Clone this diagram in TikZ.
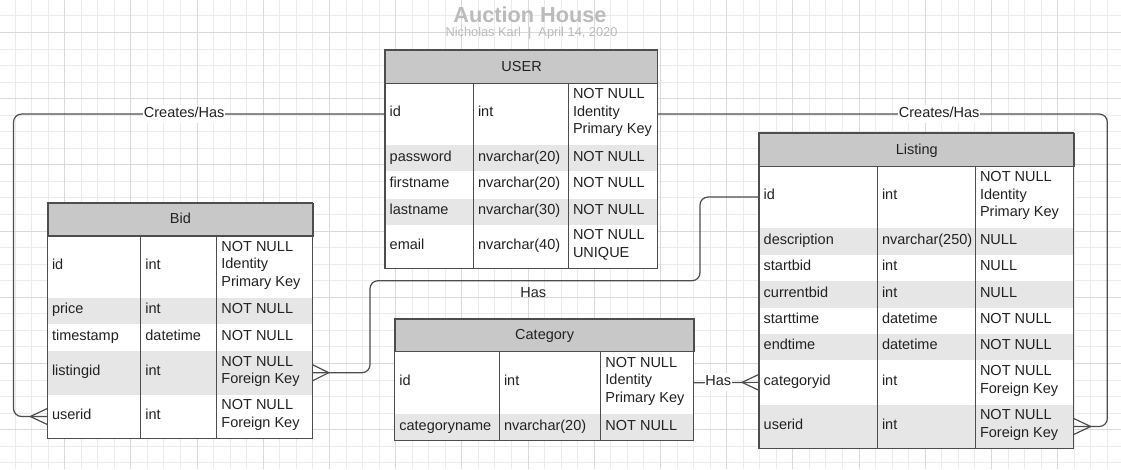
\documentclass[tikz,border=0pt]{standalone}
\usepackage{fontspec}
\setmainfont{Liberation Sans}

\definecolor{headgray}{HTML}{C8C8C8}
\definecolor{rowgray}{HTML}{E6E6E6}
\definecolor{edgegray}{HTML}{4D4D4D}
\definecolor{gridminor}{HTML}{EBEBEB}
\definecolor{gridmajor}{HTML}{D9D9D9}
\definecolor{titlegray}{HTML}{BBBBBB}
\definecolor{inkblack}{HTML}{222222}

\newcommand{\cellstrut}{\rule[-5.5pt]{0pt}{17pt}}
\newcommand{\headstrut}{\rule[-4.8pt]{0pt}{18pt}}

\tikzset{
  cellfont/.style={font=\fontsize{14.5}{17.5}\selectfont, text=inkblack},
  tablehead/.style={cellfont, draw=edgegray, line width=1.2pt, fill=headgray, anchor=north west, inner sep=0pt, execute at begin node=\headstrut},
  tablerow/.style={fill=#1, anchor=north west, inner sep=0pt},
  celltext/.style={cellfont, anchor=west, inner sep=0pt, align=left, execute at begin node=\cellstrut, execute at end node=\cellstrut},
  tableline/.style={draw=edgegray, line width=1.2pt},
  link/.style={draw=edgegray, line width=1.2pt, rounded corners=8pt},
  crow/.style={draw=edgegray, line width=1.2pt},
  linklabel/.style={cellfont, inner sep=0.5pt, execute at begin node=\cellstrut},
}

\begin{document}
\begin{tikzpicture}[x=1pt, y=-1pt]
    \useasboundingbox (0,0) rectangle (1121,469);
    \fill[white] (0,0) rectangle (1121,469);
    \foreach \k in {0,...,66}
        \draw[gridminor, line width=0.7pt] ({14.85+16.55*\k},0) -- ({14.85+16.55*\k},469);
    \foreach \k in {0,...,27}
        \draw[gridminor, line width=0.7pt] (0,{15.75+16.55*\k}) -- (1121,{15.75+16.55*\k});
    \foreach \k in {3,7,...,63}
        \draw[gridmajor, line width=0.7pt] ({14.85+16.55*\k},0) -- ({14.85+16.55*\k},469);
    \foreach \k in {1,5,...,25}
        \draw[gridmajor, line width=0.7pt] (0,{15.75+16.55*\k}) -- (1121,{15.75+16.55*\k});

    \node[font=\bfseries\fontsize{21.7}{24}\selectfont, text=titlegray, anchor=base, inner sep=0pt] (title) at (530,22.7) {Auction House};
    \node[font=\fontsize{12.8}{14}\selectfont, text=titlegray, anchor=base, inner sep=0pt] (subtitle) at (531.5,36) {Nicholas Karl\ \ |\ \ April 14, 2020};

    % USER
    \foreach \rname/\rtop/\rh/\rfill/\colA/\colB/\colC in {
        id/82.7/62.3/white/id/int/{NOT NULL\\Identity\\Primary Key},
        password/145/26/rowgray/password/{nvarchar(20)}/{NOT NULL},
        firstname/171/27.3/white/firstname/{nvarchar(20)}/{NOT NULL},
        lastname/198.3/26/rowgray/lastname/{nvarchar(30)}/{NOT NULL},
        email/224.3/44/white/email/{nvarchar(40)}/{NOT NULL\\UNIQUE}}{
        \node[tablerow=\rfill, minimum width=272pt, minimum height=\rh*1pt] (user-\rname) at (385,\rtop) {};
        \node[celltext] (user-\rname-1) at (389.5,\rtop+\rh/2) {\colA};
        \node[celltext] (user-\rname-2) at (477.8,\rtop+\rh/2) {\colB};
        \node[celltext] (user-\rname-3) at (572.8,\rtop+\rh/2) {\colC};
    }
    \node[tablehead, minimum width=272pt, minimum height=32.7pt] (user) at (385,50) {USER};
    \draw[tableline] (user.north west) rectangle (user-email.south east);
    \draw[tableline] (473.3,82.7) -- (473.3,268.3);
    \draw[tableline] (568.3,82.7) -- (568.3,268.3);

    % Bid
    \foreach \rname/\rtop/\rh/\rfill/\colA/\colB/\colC in {
        id/235.3/62/white/id/int/{NOT NULL\\Identity\\Primary Key},
        price/297.3/26.7/rowgray/price/int/{NOT NULL},
        timestamp/324/26.7/white/timestamp/datetime/{NOT NULL},
        listingid/350.7/43.6/rowgray/listingid/int/{NOT NULL\\Foreign Key},
        userid/394.3/44/white/userid/int/{NOT NULL\\Foreign Key}}{
        \node[tablerow=\rfill, minimum width=265pt, minimum height=\rh*1pt] (bid-\rname) at (47.3,\rtop) {};
        \node[celltext] (bid-\rname-1) at (51.8,\rtop+\rh/2) {\colA};
        \node[celltext] (bid-\rname-2) at (145.2,\rtop+\rh/2) {\colB};
        \node[celltext] (bid-\rname-3) at (221.2,\rtop+\rh/2) {\colC};
    }
    \node[tablehead, minimum width=265pt, minimum height=32.6pt] (bid) at (47.3,202.7) {Bid};
    \draw[tableline] (bid.north west) rectangle (bid-userid.south east);
    \draw[tableline] (140.7,235.3) -- (140.7,438.3);
    \draw[tableline] (216.7,235.3) -- (216.7,438.3);

    % Listing
    \foreach \rname/\rtop/\rh/\rfill/\colA/\colB/\colC in {
        id/166/61.7/white/id/int/{NOT NULL\\Identity\\Primary Key},
        description/227.7/26.6/rowgray/description/{nvarchar(250)}/NULL,
        startbid/254.3/26.4/white/startbid/int/NULL,
        currentbid/280.7/26.6/rowgray/currentbid/int/NULL,
        starttime/307.3/26/white/starttime/datetime/{NOT NULL},
        endtime/333.3/26.7/rowgray/endtime/datetime/{NOT NULL},
        categoryid/360/44.3/white/categoryid/int/{NOT NULL\\Foreign Key},
        userid/404.3/44/rowgray/userid/int/{NOT NULL\\Foreign Key}}{
        \node[tablerow=\rfill, minimum width=314.3pt, minimum height=\rh*1pt] (listing-\rname) at (759,\rtop) {};
        \node[celltext] (listing-\rname-1) at (763.5,\rtop+\rh/2) {\colA};
        \node[celltext] (listing-\rname-2) at (881.8,\rtop+\rh/2) {\colB};
        \node[celltext] (listing-\rname-3) at (979.8,\rtop+\rh/2) {\colC};
    }
    \node[tablehead, minimum width=314.3pt, minimum height=33.3pt] (listing) at (759,132.7) {Listing};
    \draw[tableline] (listing.north west) rectangle (listing-userid.south east);
    \draw[tableline] (877.3,166) -- (877.3,448.3);
    \draw[tableline] (975.3,166) -- (975.3,448.3);

    % Category
    \foreach \rname/\rtop/\rh/\rfill/\colA/\colB/\colC in {
        id/351/63/white/id/int/{NOT NULL\\Identity\\Primary Key},
        categoryname/414/26/rowgray/categoryname/{nvarchar(20)}/{NOT NULL}}{
        \node[tablerow=\rfill, minimum width=298.6pt, minimum height=\rh*1pt] (category-\rname) at (394.7,\rtop) {};
        \node[celltext] (category-\rname-1) at (399.2,\rtop+\rh/2) {\colA};
        \node[celltext] (category-\rname-2) at (503.8,\rtop+\rh/2) {\colB};
        \node[celltext] (category-\rname-3) at (605.2,\rtop+\rh/2) {\colC};
    }
    \node[tablehead, minimum width=298.6pt, minimum height=32.7pt] (category) at (394.7,318.3) {Category};
    \draw[tableline] (category.north west) rectangle (category-categoryname.south east);
    \draw[tableline] (499.3,351) -- (499.3,440);
    \draw[tableline] (600.7,351) -- (600.7,440);

    % relationships
    \coordinate (leftrail) at (13.5,0);
    \coordinate (rightrail) at (1107.3,0);
    \coordinate (hasbend1) at (700,280.7);
    \coordinate (hasbend2) at (370,280.7);

    \draw[link] (user-id.west) -| (leftrail |- bid-userid.west) -- (bid-userid.west);
    \draw[crow] ([yshift=8pt]bid-userid.west) -- ([xshift=-17pt]bid-userid.west) -- ([yshift=-8pt]bid-userid.west);

    \draw[link] (user-id.east) -| (rightrail |- listing-userid.east) -- (listing-userid.east);
    \draw[crow] ([yshift=8pt]listing-userid.east) -- ([xshift=17pt]listing-userid.east) -- ([yshift=-8pt]listing-userid.east);

    \draw[link] (listing-id.west) -| (hasbend1) -- (hasbend2) |- (bid-listingid.east);
    \draw[crow] ([yshift=8pt]bid-listingid.east) -- ([xshift=16pt]bid-listingid.east) -- ([yshift=-8pt]bid-listingid.east);

    \draw[link] (category-id.east) -- (listing-categoryid.west);
    \draw[crow] ([yshift=8pt]listing-categoryid.west) -- ([xshift=-17pt]listing-categoryid.west) -- ([yshift=-8pt]listing-categoryid.west);

    \node[linklabel, fill=white] (creates-bid) at (184.2,114) {Creates/Has};
    \node[linklabel, fill=white] (creates-listing) at (939.2,114) {Creates/Has};
    \node[linklabel] (has-bid) at (533.3,294.3) {Has};
    \node[linklabel, fill=white] (has-category) at (718.3,382.4) {Has};
\end{tikzpicture}
\end{document}
